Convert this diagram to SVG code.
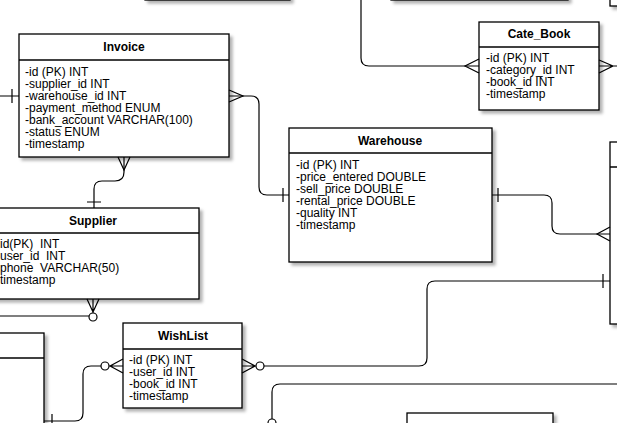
<svg xmlns="http://www.w3.org/2000/svg" width="617" height="423" viewBox="0 0 617 423">
<defs>
<filter id="sh" x="-10%" y="-10%" width="130%" height="130%">
<feDropShadow dx="3" dy="3" stdDeviation="1.8" flood-color="#000" flood-opacity="0.3"/>
</filter>
</defs>
<style>
.box{fill:#fff;stroke:#000;stroke-width:1.3;filter:url(#sh)}
.hl{stroke:#000;stroke-width:1.3}
.t{font-family:"Liberation Sans",Arial,sans-serif;font-size:12px;font-weight:bold;text-anchor:middle;fill:#000}
.r{font-family:"Liberation Sans",Arial,sans-serif;font-size:12px;fill:#000;white-space:pre}
.c{fill:none;stroke:#000;stroke-width:1.2}
.o{fill:#fff;stroke:#000;stroke-width:1.2}
</style>
<rect width="617" height="423" fill="#fff"/>

<g id="topbox1"><rect class="box" x="145" y="-60" width="145" height="60"/></g>
<g id="topbox2"><rect class="box" x="391" y="-60" width="177" height="60"/></g>
<g id="topbox3"><rect class="box" x="610" y="-60" width="40" height="66"/></g>

<g id="invoice">
<rect class="box" x="19" y="34" width="210" height="123"/>
<line class="hl" x1="19" y1="60" x2="229" y2="60"/>
<text class="t" x="124" y="51">Invoice</text>
<text class="r" x="25" y="76">-id (PK) INT</text>
<text class="r" x="25" y="88">-supplier_id INT</text>
<text class="r" x="25" y="100">-warehouse_id INT</text>
<text class="r" x="25" y="112">-payment_method ENUM</text>
<text class="r" x="25" y="124">-bank_account VARCHAR(100)</text>
<text class="r" x="25" y="136">-status ENUM</text>
<text class="r" x="25" y="148">-timestamp</text>
</g>

<g id="cate_book">
<rect class="box" x="479" y="22" width="120" height="88"/>
<line class="hl" x1="479" y1="47" x2="599" y2="47"/>
<text class="t" x="539" y="38">Cate_Book</text>
<text class="r" x="486" y="62">-id (PK) INT</text>
<text class="r" x="486" y="74">-category_id INT</text>
<text class="r" x="486" y="86">-book_id INT</text>
<text class="r" x="486" y="98">-timestamp</text>
</g>

<g id="warehouse">
<rect class="box" x="289" y="128" width="203" height="134"/>
<line class="hl" x1="289" y1="153" x2="492" y2="153"/>
<text class="t" x="390" y="145">Warehouse</text>
<text class="r" x="296" y="169">-id (PK) INT</text>
<text class="r" x="296" y="181">-price_entered DOUBLE</text>
<text class="r" x="296" y="193">-sell_price DOUBLE</text>
<text class="r" x="296" y="205">-rental_price DOUBLE</text>
<text class="r" x="296" y="217">-quality INT</text>
<text class="r" x="296" y="229">-timestamp</text>
</g>

<g id="rightbox">
<rect class="box" x="610" y="142" width="40" height="182"/>
<line class="hl" x1="610" y1="167" x2="650" y2="167"/>
</g>

<g id="supplier">
<rect class="box" x="-13" y="208" width="212" height="91"/>
<line class="hl" x1="-13" y1="233" x2="199" y2="233"/>
<text class="t" x="93" y="225">Supplier</text>
<text class="r" x="0" y="248">id(PK)  INT</text>
<text class="r" x="0" y="260">user_id  INT</text>
<text class="r" x="0" y="272">phone  VARCHAR(50)</text>
<text class="r" x="0" y="284">timestamp</text>
</g>

<g id="leftbox">
<rect class="box" x="-30" y="333" width="74" height="120"/>
<line class="hl" x1="-30" y1="358" x2="44" y2="358"/>
</g>

<g id="wishlist">
<rect class="box" x="123" y="323" width="119" height="85"/>
<line class="hl" x1="123" y1="349" x2="242" y2="349"/>
<text class="t" x="183" y="340">WishList</text>
<text class="r" x="129" y="364">-id (PK) INT</text>
<text class="r" x="129" y="376">-user_id INT</text>
<text class="r" x="129" y="388">-book_id INT</text>
<text class="r" x="129" y="400">-timestamp</text>
</g>

<g id="bottombox">
<rect class="box" x="407" y="413" width="146" height="60"/>
</g>

<g id="connectors">
<!-- Invoice left -->
<path class="c" d="M0,96 L19,96 M12,89 L12,103"/>
<!-- Invoice right to Warehouse -->
<path class="c" d="M229,96 L251,96 Q259,96 259,104 L259,187 Q259,195 267,195 L289,195"/>
<path class="c" d="M229,90 L243,96 L229,102 M283,188 L283,202"/>
<!-- Invoice bottom to Supplier -->
<path class="c" d="M124,157 L124,172 Q124,181 115,181 L102,181 Q94,181 94,189 L94,208"/>
<path class="c" d="M118,157 L124,170 L130,157 M87,202 L101,202"/>
<!-- Supplier bottom -->
<path class="c" d="M87,299 L93,312 L99,299 M93,299 L93,313 M89,316 L0,316"/>
<circle class="o" cx="93" cy="317" r="4"/>
<!-- WishList left -->
<path class="c" d="M101,366 L91,366 Q83,366 83,374 L83,413 Q83,421 75,421 L44,421 M52,414 L52,428"/>
<path class="c" d="M123,359 L110,366 L123,373 M109,366 L123,366"/>
<circle class="o" cx="105" cy="366" r="4"/>
<!-- WishList right -->
<path class="c" d="M264,366 L419,366 Q427,366 427,358 L427,289 Q427,281 435,281 L610,281 M603,274 L603,288"/>
<path class="c" d="M242,359 L255,366 L242,373 M242,366 L256,366"/>
<circle class="o" cx="260" cy="366" r="4"/>
<!-- Warehouse right -->
<path class="c" d="M492,195 L544,195 Q552,195 552,203 L552,226 Q552,234 560,234 L610,234 M498,188 L498,202"/>
<path class="c" d="M610,227 L597,234 L610,241"/>
<!-- Cate_Book left -->
<path class="c" d="M361,0 L361,58 Q361,66 369,66 L479,66"/>
<path class="c" d="M479,59 L465,66 L479,73"/>
<!-- Cate_Book right -->
<path class="c" d="M599,66 L617,66 M599,60 L613,66 L599,73"/>
<!-- bottom connector -->
<path class="c" d="M617,384 L280,384 Q272,384 272,392 L272,419"/>
<circle class="o" cx="272" cy="423" r="4"/>
</g>
</svg>
